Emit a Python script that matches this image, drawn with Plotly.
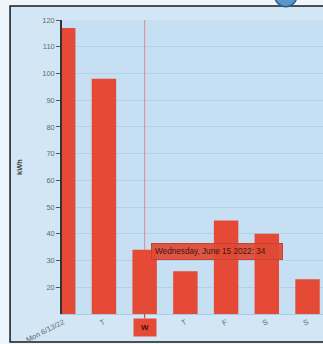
import plotly.graph_objects as go

days = ["Mon 6/13/22", "T", "W", "T", "F", "S", "S"]
full_names = ["Monday, June 13 2022", "Tuesday, June 14 2022", "Wednesday, June 15 2022",
              "Thursday, June 16 2022", "Friday, June 17 2022", "Saturday, June 18 2022",
              "Sunday, June 19 2022"]
kwh = [117, 98, 34, 26, 45, 40, 23]
y_ticks = [20, 30, 40, 50, 60, 70, 80, 90, 100, 110, 120]
selected = 2

RED = "#e54a36"
x_idx = list(range(len(kwh)))

fig = go.Figure()
fig.add_trace(go.Bar(
    x=x_idx, y=kwh, width=0.6,
    marker=dict(color=RED, line=dict(width=0)),
    hoverinfo="skip",
))

fig.update_layout(
    width=323, height=344,
    margin=dict(l=62, r=0, t=20, b=30),
    paper_bgcolor="#eef5fb",
    plot_bgcolor="rgba(0,0,0,0)",
    showlegend=False,
    bargap=0.4,
    font=dict(family="Liberation Sans, Arial, sans-serif", color="#555"),
)

fig.update_xaxes(
    range=[-0.03, 6.38],
    tickmode="array", tickvals=x_idx, ticktext=days,
    tickangle=-27, tickfont=dict(size=7.5, color="#666"),
    showgrid=False, zeroline=False,
    showline=True, linecolor="#a9cbe6", linewidth=1,
    ticks="", automargin=False,
)
fig.update_yaxes(
    range=[10, 120],
    tickmode="array", tickvals=y_ticks,
    tickfont=dict(size=7.5, color="#6a6a6a"),
    ticks="outside", ticklen=4, tickcolor="#555", tickwidth=1,
    showline=True, linecolor="#333", linewidth=1.5,
    showgrid=True, gridcolor="#b3d0e8", gridwidth=1,
    zeroline=False,
    title=dict(text="<b>kWh</b>", font=dict(size=7.5, color="#444"), standoff=19),
    automargin=False,
)

# frame and backgrounds
fig.add_shape(type="rect", xref="paper", yref="paper",
              x0=-0.199, x1=1.05, y0=-0.095, y1=1.0476,
              fillcolor="#d3e6f5", line=dict(color="#1a1a1a", width=1.5), layer="below")
fig.add_shape(type="rect", xref="paper", yref="paper",
              x0=0, x1=1, y0=0, y1=1,
              fillcolor="#c6dff3", line=dict(width=0), layer="below")
# logo fragment at top
fig.add_shape(type="circle", xref="paper", yref="paper",
              x0=0.815, x1=0.9, y0=1.045, y1=1.12,
              fillcolor="#5d95c8", line=dict(color="#2a5f95", width=1.5), layer="below")

# crosshair
fig.add_shape(type="line", xref="x", yref="y",
              x0=selected, x1=selected, y0=kwh[selected], y1=120,
              line=dict(color="#d98a8f", width=1))
fig.add_shape(type="line", xref="x", yref="paper",
              x0=selected, x1=selected, y0=0, y1=-0.015,
              line=dict(color="#c0392b", width=1))

# x-axis crosshair label
fig.add_annotation(x=selected, y=0, xref="x", yref="paper",
                   text="<b>W</b>", showarrow=False, yanchor="top", yshift=-4,
                   font=dict(size=8, color="#4a1208"),
                   bgcolor=RED, borderpad=4, width=14)

# tooltip
fig.add_annotation(x=selected, y=kwh[selected], xref="x", yref="y",
                   text=f"{full_names[selected]}: {kwh[selected]}",
                   showarrow=False, xanchor="left", yanchor="middle",
                   xshift=6, yshift=-2, width=124, align="left",
                   font=dict(size=8.2, color="#4a1208"),
                   bgcolor="rgba(222,74,54,0.92)", bordercolor="#c9412f",
                   borderwidth=1, borderpad=3)

fig.write_html("out.html")
